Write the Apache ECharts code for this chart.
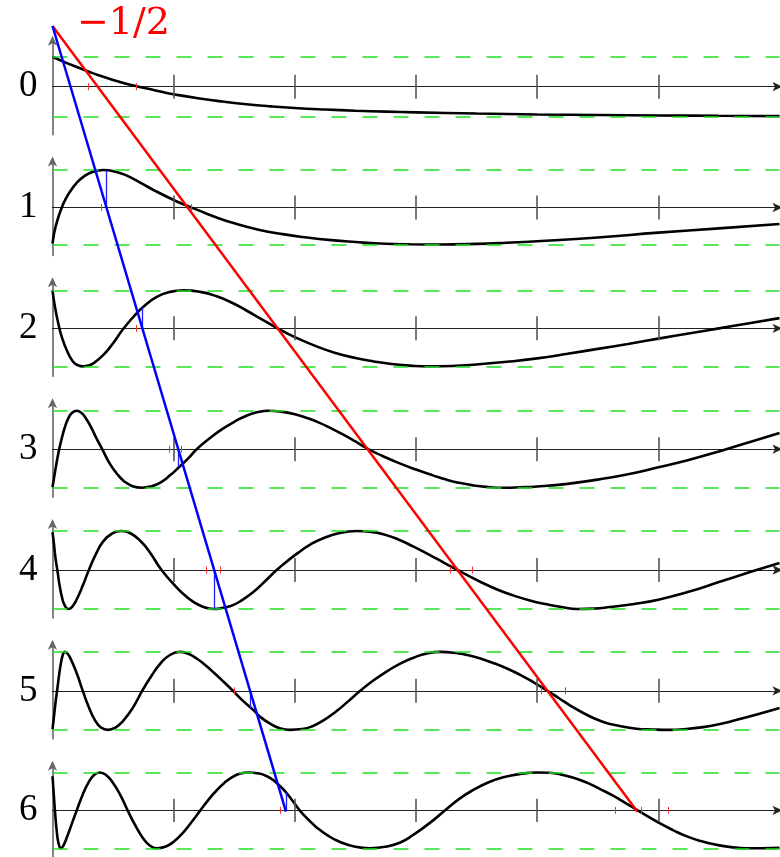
<!DOCTYPE html>
<html><head><meta charset="utf-8">
<script src="https://cdn.jsdelivr.net/npm/echarts@6/dist/echarts.min.js"></script>
<style>html,body{margin:0;padding:0;background:#fff}#c{width:780px;height:857px}</style>
</head><body><div id="c"></div>
<script>
// ---------- data ----------
const rowLabels = ['0', '1', '2', '3', '4', '5', '6'];
const cornerLabel = '\u22121/2';
const xTicks = [1, 2, 3, 4, 5];

const curve0 = [[0,1.0],[0.1,0.82],[0.2,0.655],[0.3,0.5],[0.4,0.355],[0.5,0.225],[0.6,0.11],[0.7,0.01],[0.8,-0.08],[0.9,-0.17],[1.0,-0.25],[1.2,-0.385],[1.4,-0.495],[1.6,-0.585],[1.8,-0.655],[2.0,-0.71],[2.25,-0.76],[2.5,-0.8],[2.75,-0.83],[3.0,-0.855],[3.5,-0.895],[4.0,-0.925],[4.5,-0.945],[5.0,-0.96],[5.5,-0.97],[6.0,-0.98]];
const curve1 = [[0,-0.96],[0.01,-0.75],[0.025,-0.52],[0.05,-0.24],[0.08,0.03],[0.11,0.24],[0.15,0.45],[0.2,0.66],[0.26,0.83],[0.33,0.95],[0.42,1.0],[0.5,0.97],[0.6,0.87],[0.72,0.67],[0.85,0.44],[1.0,0.2],[1.1,0.06],[1.2,-0.07],[1.35,-0.26],[1.5,-0.42],[1.7,-0.59],[1.9,-0.71],[2.1,-0.8],[2.3,-0.87],[2.5,-0.92],[2.7,-0.96],[2.95,-0.98],[3.2,-0.985],[3.5,-0.97],[3.75,-0.94],[4.0,-0.9],[4.5,-0.8],[5.0,-0.67],[5.5,-0.555],[6.0,-0.44]];
const curve2 = [[0,1.0],[0.02,0.57],[0.048,0.13],[0.076,-0.22],[0.117,-0.57],[0.17,-0.88],[0.21,-0.97],[0.254,-1.0],[0.295,-0.98],[0.337,-0.92],[0.42,-0.7],[0.5,-0.39],[0.58,-0.03],[0.67,0.31],[0.75,0.57],[0.86,0.83],[0.97,0.96],[1.08,1.0],[1.22,0.96],[1.35,0.85],[1.49,0.66],[1.6,0.47],[1.71,0.27],[1.857,0.0],[2.0,-0.23],[2.2,-0.5],[2.35,-0.66],[2.5,-0.78],[2.65,-0.87],[2.8,-0.94],[2.95,-0.98],[3.1,-1.0],[3.3,-0.99],[3.5,-0.95],[3.75,-0.88],[4.0,-0.79],[4.25,-0.67],[4.5,-0.54],[4.75,-0.41],[5.0,-0.27],[5.25,-0.135],[5.5,0.0],[5.75,0.135],[6.0,0.27]];
const curve3 = [[0,-0.99],[0.015,-0.7],[0.03,-0.42],[0.05,-0.08],[0.07,0.2],[0.1,0.55],[0.13,0.8],[0.16,0.94],[0.2,1.0],[0.24,0.94],[0.28,0.78],[0.32,0.56],[0.36,0.3],[0.41,0.0],[0.47,-0.36],[0.53,-0.63],[0.59,-0.83],[0.66,-0.96],[0.74,-1.0],[0.82,-0.96],[0.89,-0.87],[0.97,-0.68],[1.05,-0.45],[1.12,-0.24],[1.19,0.0],[1.3,0.29],[1.4,0.52],[1.5,0.71],[1.6,0.87],[1.69,0.96],[1.78,1.0],[1.9,0.97],[2.0,0.91],[2.1,0.81],[2.2,0.69],[2.3,0.54],[2.4,0.38],[2.5,0.2],[2.606,0.0],[2.72,-0.17],[2.85,-0.35],[3.0,-0.53],[3.14,-0.68],[3.25,-0.79],[3.35,-0.87],[3.47,-0.94],[3.58,-0.98],[3.72,-1.0],[3.86,-0.99],[4.0,-0.97],[4.25,-0.9],[4.5,-0.79],[4.75,-0.65],[5.0,-0.47],[5.25,-0.28],[5.5,-0.06],[5.75,0.18],[6.0,0.42]];
const curve4 = [[0,0.97],[0.01,0.72],[0.025,0.3],[0.04,0.0],[0.06,-0.42],[0.08,-0.72],[0.1,-0.9],[0.13,-1.0],[0.16,-0.95],[0.2,-0.75],[0.25,-0.4],[0.3,0.0],[0.36,0.42],[0.42,0.74],[0.49,0.93],[0.57,1.0],[0.65,0.93],[0.73,0.73],[0.8,0.47],[0.9,0.0],[1.02,-0.43],[1.1,-0.67],[1.16,-0.81],[1.24,-0.94],[1.33,-1.0],[1.42,-0.96],[1.49,-0.9],[1.57,-0.76],[1.66,-0.56],[1.75,-0.3],[1.85,0.0],[1.95,0.26],[2.04,0.47],[2.13,0.66],[2.23,0.81],[2.37,0.95],[2.51,1.0],[2.62,0.98],[2.73,0.92],[2.85,0.79],[2.98,0.6],[3.08,0.44],[3.17,0.29],[3.342,0.0],[3.53,-0.3],[3.67,-0.5],[3.8,-0.65],[3.94,-0.78],[4.08,-0.88],[4.2,-0.95],[4.33,-1.0],[4.47,-0.99],[4.6,-0.95],[4.8,-0.87],[5.0,-0.76],[5.25,-0.56],[5.5,-0.31],[5.75,-0.06],[6.0,0.18]];
const curve5 = [[0,-0.98],[0.01,-0.72],[0.025,-0.3],[0.04,0.05],[0.055,0.42],[0.07,0.72],[0.085,0.92],[0.1,1.0],[0.12,0.97],[0.15,0.82],[0.2,0.45],[0.25,0.0],[0.3,-0.42],[0.35,-0.75],[0.4,-0.94],[0.46,-1.0],[0.52,-0.94],[0.58,-0.78],[0.66,-0.45],[0.74,0.0],[0.82,0.4],[0.89,0.7],[0.96,0.9],[1.05,1.0],[1.12,0.95],[1.19,0.83],[1.26,0.66],[1.33,0.47],[1.41,0.24],[1.49,0.0],[1.57,-0.25],[1.66,-0.5],[1.72,-0.68],[1.79,-0.83],[1.87,-0.95],[1.96,-1.0],[2.06,-0.98],[2.15,-0.9],[2.24,-0.75],[2.34,-0.53],[2.44,-0.27],[2.54,0.0],[2.65,0.27],[2.76,0.5],[2.87,0.7],[2.98,0.85],[3.09,0.96],[3.2,1.0],[3.33,0.97],[3.45,0.9],[3.55,0.81],[3.65,0.7],[3.76,0.56],[3.86,0.41],[3.97,0.22],[4.085,0.0],[4.18,-0.19],[4.27,-0.37],[4.4,-0.6],[4.54,-0.79],[4.68,-0.9],[4.82,-0.97],[4.95,-0.99],[5.09,-1.0],[5.23,-0.98],[5.37,-0.93],[5.51,-0.85],[5.65,-0.74],[5.82,-0.6],[6.0,-0.44]];
const curve6 = [[0,0.9],[0.01,0.45],[0.02,0.0],[0.035,-0.55],[0.05,-0.87],[0.07,-1.0],[0.09,-0.93],[0.12,-0.7],[0.16,-0.35],[0.2,0.0],[0.25,0.42],[0.3,0.75],[0.345,0.94],[0.39,1.0],[0.44,0.94],[0.5,0.72],[0.56,0.4],[0.62,0.0],[0.68,-0.38],[0.74,-0.7],[0.8,-0.92],[0.86,-1.0],[0.93,-0.96],[1.0,-0.83],[1.08,-0.58],[1.15,-0.3],[1.22,0.0],[1.29,0.29],[1.35,0.51],[1.42,0.73],[1.49,0.89],[1.55,0.97],[1.62,1.0],[1.69,0.98],[1.77,0.9],[1.84,0.75],[1.9,0.57],[1.97,0.3],[2.04,0.0],[2.11,-0.24],[2.18,-0.45],[2.27,-0.66],[2.37,-0.83],[2.5,-0.96],[2.62,-1.0],[2.75,-0.96],[2.87,-0.85],[2.98,-0.64],[3.09,-0.39],[3.17,-0.19],[3.24,0.0],[3.36,0.31],[3.48,0.55],[3.6,0.74],[3.72,0.87],[3.86,0.96],[4.0,1.0],[4.1,0.99],[4.19,0.95],[4.3,0.86],[4.41,0.73],[4.52,0.56],[4.63,0.38],[4.73,0.19],[4.83,0.0],[4.92,-0.17],[5.01,-0.34],[5.12,-0.52],[5.23,-0.68],[5.35,-0.81],[5.48,-0.91],[5.6,-0.97],[5.73,-1.0],[5.85,-1.0],[6.0,-0.99]];
const curves = [curve0, curve1, curve2, curve3, curve4, curve5, curve6];

// straight guide lines in (x, row index) coordinates
const redLine = [[0, -0.5], [4.828, 6]];
const blueLine = [[0, -0.5], [1.927, 6]];
// blue drop segments: x position and curve value where the blue line crosses each axis
const blueSegX = [null, 0.445, 0.741, 1.038, 1.334, 1.63, 1.927];
const blueSegY = [null, 0.99, 0.55, -0.46, -1.0, -0.44, 0.47];
// tiny red marks on the axes
const redTicks = [[0.295, 0.695], [0.406, 1.148], [0.695], [0.964, 1.06], [1.273, 1.382, 3.285, 3.464], [1.5, 4.036, 4.229], [1.883, 4.641, 4.861, 5.078]];
const envelope = 1;

// ---------- layout ----------
const AX0 = 86.7, GAP = 120.83, LEFT = 52.5, WIDTH = 727, HALF = 48;
const ampPx = [30, 37.5, 38, 38.5, 39, 39, 39];
const FONT = 'Liberation Serif';
const GREEN = '#22e022';

const grids = [], xAxes = [], yAxes = [], series = [];
for (let r = 0; r < 7; r++) {
  const ay = AX0 + GAP * r;
  const yh = HALF / ampPx[r];
  const tickH = 12 / ampPx[r];
  const redH = 3.5 / ampPx[r];
  grids.push({ left: LEFT, width: WIDTH, top: ay - HALF, height: 2 * HALF });
  xAxes.push({
    gridIndex: r, type: 'value', min: 0, max: 6,
    axisLine: { show: true, onZero: true, lineStyle: { color: '#222', width: 1.2 }, symbol: ['none', 'arrow'], symbolSize: [7, 10], symbolOffset: [0, 3] },
    axisTick: { show: false }, axisLabel: { show: false }, splitLine: { show: false }
  });
  yAxes.push({
    gridIndex: r, type: 'value', min: -yh, max: yh,
    axisLine: { show: true, onZero: false, lineStyle: { color: '#666', width: 1.6 }, symbol: ['none', 'arrow'], symbolSize: [7, 10], symbolOffset: [0, 3] },
    axisTick: { show: false }, splitLine: { show: false },
    axisLabel: { show: true, customValues: [0], formatter: (v) => (Math.abs(v) < 1e-9 ? rowLabels[r] : ''), fontSize: 37, fontFamily: FONT, color: '#000', margin: 15 }
  });
  const ml = [];
  ml.push({ yAxis: envelope, lineStyle: { color: GREEN, width: 1.5, type: [15, 16] } });
  ml.push({ yAxis: -envelope, lineStyle: { color: GREEN, width: 1.5, type: [15, 16] } });
  xTicks.forEach(k => ml.push([{ coord: [k, -tickH], lineStyle: { color: '#555', width: 1.6, type: 'solid' } }, { coord: [k, tickH] }]));
  redTicks[r].forEach(k => ml.push([{ coord: [k, -redH], lineStyle: { color: '#ff3030', width: 1, type: 'solid' } }, { coord: [k, redH] }]));
  if (blueSegX[r] !== null) {
    ml.push([{ coord: [blueSegX[r], 0], lineStyle: { color: '#2020ff', width: 1.3, type: 'solid' } }, { coord: [blueSegX[r], blueSegY[r]] }]);
  }
  series.push({
    type: 'line', xAxisIndex: r, yAxisIndex: r, data: curves[r], smooth: 0.5, showSymbol: false, symbol: 'none',
    lineStyle: { color: '#000', width: 2.6 }, z: 2, silent: true,
    markLine: { silent: true, symbol: ['none', 'none'], label: { show: false }, animation: false, data: ml, z: 3 }
  });
}
// overlay grid for the two guide lines
grids.push({ left: LEFT, width: WIDTH, top: 26, height: (AX0 + GAP * 6) - 26 });
xAxes.push({ gridIndex: 7, type: 'value', min: 0, max: 6, show: false });
yAxes.push({ gridIndex: 7, type: 'value', min: -0.5, max: 6, inverse: true, show: false });
series.push({ type: 'line', xAxisIndex: 7, yAxisIndex: 7, data: redLine, showSymbol: false, symbol: 'none', lineStyle: { color: '#ff0000', width: 2.5 }, z: 5, silent: true });
series.push({ type: 'line', xAxisIndex: 7, yAxisIndex: 7, data: blueLine, showSymbol: false, symbol: 'none', lineStyle: { color: '#0000ff', width: 2.5 }, z: 6, silent: true });

const chart = echarts.init(document.getElementById('c'), null, { renderer: 'canvas' });
chart.setOption({
  animation: false,
  backgroundColor: '#fff',
  grid: grids, xAxis: xAxes, yAxis: yAxes, series: series,
  graphic: [{
    type: 'text', x: 77, y: 24, z: 10,
    style: { text: cornerLabel, fill: '#ff0000', font: '38px "DejaVu Serif"', verticalAlign: 'middle', textVerticalAlign: 'middle' }
  }]
});
</script></body></html>
